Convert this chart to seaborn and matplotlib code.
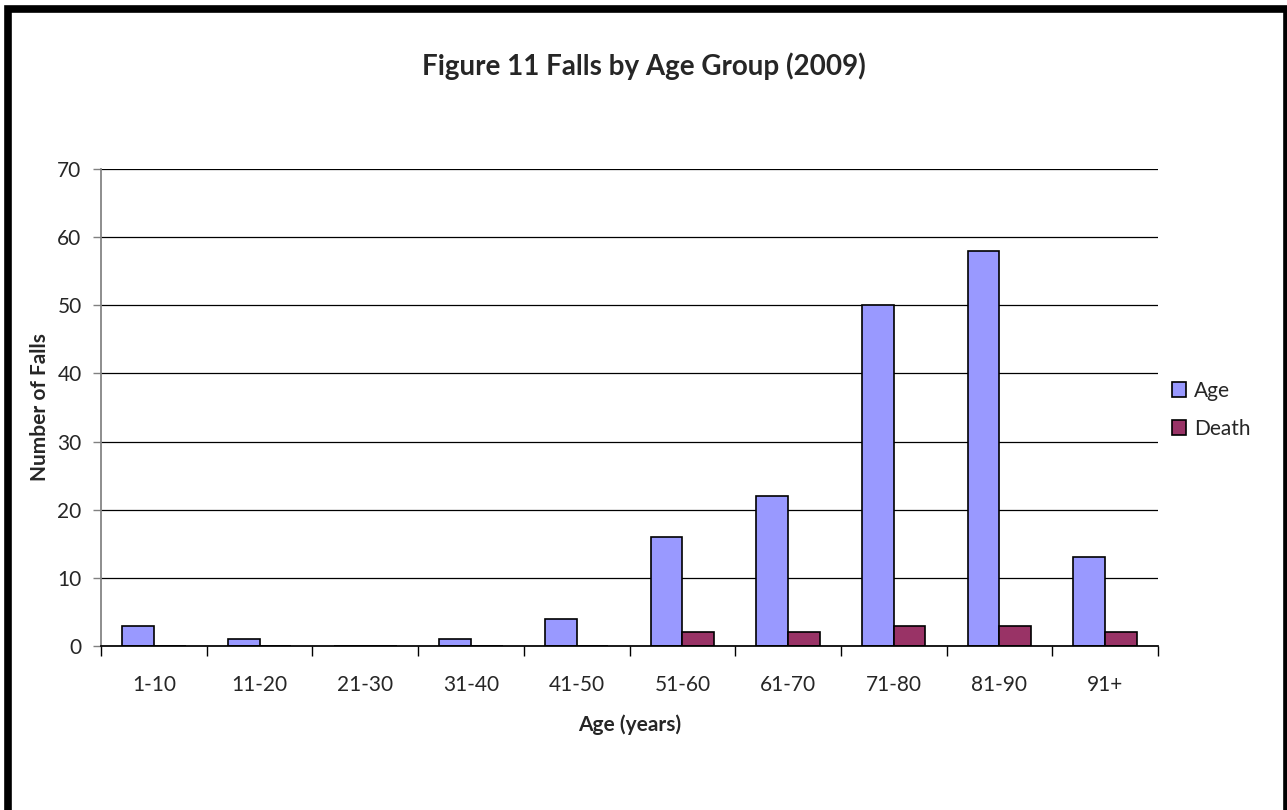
import numpy as np
import pandas as pd
import matplotlib
matplotlib.use("Agg")
import matplotlib.pyplot as plt
import seaborn as sns
from matplotlib.patches import Rectangle

age_groups = ["1-10", "11-20", "21-30", "31-40", "41-50",
              "51-60", "61-70", "71-80", "81-90", "91+"]
age_falls = [3, 1, 0, 1, 4, 16, 22, 50, 58, 13]
death_falls = [0, 0, 0, 0, 0, 2, 2, 3, 3, 2]

df = pd.DataFrame({
    "group": age_groups * 2,
    "series": ["Age"] * len(age_groups) + ["Death"] * len(age_groups),
    "value": age_falls + death_falls,
})

sns.set_theme(style="white")
plt.rcParams["font.family"] = ["Lato", "DejaVu Sans"]

fig = plt.figure(figsize=(12.87, 8.1), dpi=100)
ax = fig.add_axes([0.0785, 0.2025, 0.8213, 0.5889])

sns.barplot(
    data=df, x="group", y="value", hue="series",
    palette={"Age": "#9999FF", "Death": "#993366"}, saturation=1,
    width=0.6, edgecolor="black", linewidth=1.2,
    ax=ax, legend=True,
)

ax.set_ylim(0, 70)
ax.set_xlim(-0.5, 9.5)
ax.set_yticks(range(0, 71, 10))
ax.yaxis.grid(True, color="black", linewidth=0.9)
ax.set_axisbelow(True)

for side in ["top", "right"]:
    ax.spines[side].set_visible(False)
ax.spines["left"].set_color("#808080")
ax.spines["bottom"].set_color("black")

ax.tick_params(axis="y", which="major", length=6, width=1, color="#808080",
               labelsize=15, pad=8, left=True)
ax.tick_params(axis="x", which="major", length=0, labelsize=15, pad=21)
ax.set_xticks(np.arange(-0.5, 10, 1), minor=True)
ax.tick_params(axis="x", which="minor", length=7, width=1, color="black",
               bottom=True)

ax.set_xlabel("Age (years)", fontsize=15, fontweight="bold", labelpad=14)
ax.set_ylabel("Number of Falls", fontsize=15, fontweight="bold", labelpad=5)

fig.suptitle("Figure 11 Falls by Age Group (2009)", y=0.935,
             fontsize=20, fontweight="bold")

leg = ax.legend(loc="center left", bbox_to_anchor=(0.995, 0.495), frameon=False,
                fontsize=15, handlelength=0.7, handleheight=0.7,
                handletextpad=0.4, labelspacing=0.85)

fig.patches.append(Rectangle((0.0066, -0.05), 0.9934, 1.0394,
                             transform=fig.transFigure, fill=False,
                             edgecolor="black", linewidth=5.5))

fig.savefig("out.png", dpi=100)
